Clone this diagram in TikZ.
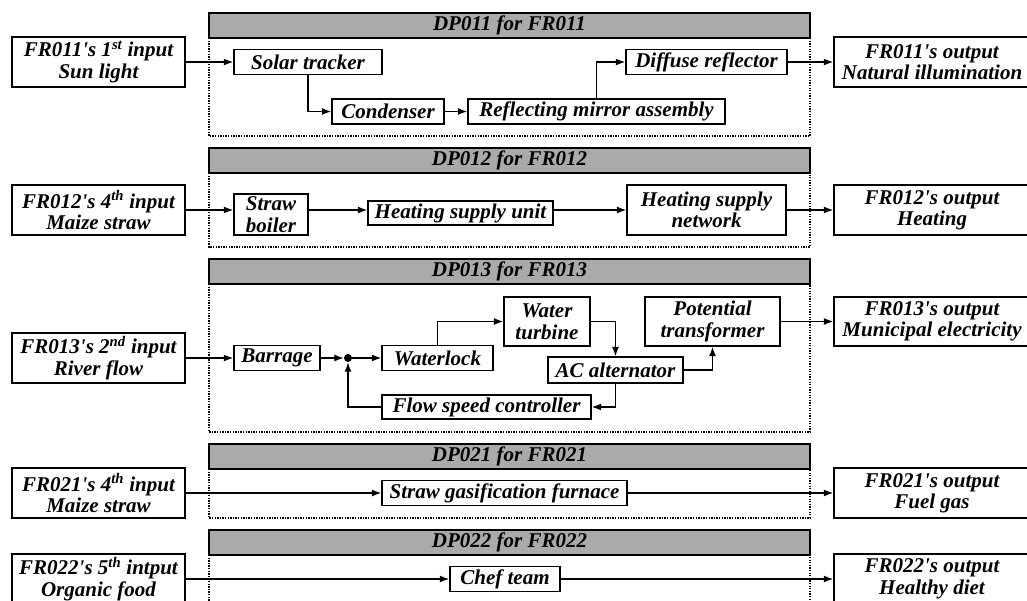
\documentclass[tikz,border=0pt]{standalone}
\usepackage{fontspec}
\setmainfont{Liberation Serif}[Ligatures=TeXOff]
\usetikzlibrary{arrows.meta,calc}
\definecolor{hdrgray}{RGB}{170,170,170}
\newcommand\fs{\fontsize{21}{21.5}\selectfont\bfseries\itshape}
\tikzset{
  bx/.style={draw, line width=1.4pt, inner sep=0pt, align=center, font=\fs},
  hdr/.style={draw, line width=1.4pt, fill=hdrgray, inner sep=0pt, font=\fs,
              minimum width=601pt, minimum height=25pt},
  frame/.style={draw, line width=1.3pt, dash pattern=on 1.3pt off 1.3pt},
  arr/.style={line width=1.3pt, -{Latex[length=9.5pt,width=7pt]}},
  jdot/.style={circle, fill=black, inner sep=0pt, minimum size=8pt}
}
\begin{document}
\begin{tikzpicture}[x=1pt,y=-1pt]
\useasboundingbox (0,0) rectangle (1027,600);
\clip (0,0) rectangle (1027,600);

% ---------------- Row 1 ----------------
\node[hdr] (h1) at (509.5,25.5) {DP011 for FR011};
\draw[frame] (209,38) -- (209,136) -- (810,136) -- (810,38);
\node[bx, minimum width=173pt, minimum height=50pt] (in1) at (98.5,62) {FR011's 1\textsuperscript{st} input\\Sun light};
\node[bx, minimum width=148pt, minimum height=25pt] (st) at (308,62) {Solar tracker};
\node[bx, minimum width=112pt, minimum height=25pt] (cond) at (388,111.5) {Condenser};
\node[bx, minimum width=257pt, minimum height=25pt] (refl) at (596.5,111.5) {Reflecting mirror assembly};
\node[bx, minimum width=161pt, minimum height=25pt] (diff) at (706.5,62) {Diffuse reflector};
\node[bx, minimum width=196pt, minimum height=50pt] (out1) at (932,62) {FR011's output\\Natural illumination};
\draw[arr] (in1.east) -- (st.west);
\draw[arr] (st.south) |- (cond.west);
\draw[arr] (cond.east) -- (refl.west);
\draw[arr] (refl.north) |- (diff.west);
\draw[arr] (diff.east) -- (out1.west);

% ---------------- Row 2 ----------------
\node[hdr] (h2) at (509.5,160.5) {DP012 for FR012};
\draw[frame] (209,173) -- (209,247) -- (810,247) -- (810,173);
\node[bx, minimum width=173pt, minimum height=50pt] (in2) at (98.5,210) {FR012's 4\textsuperscript{th} input\\Maize straw};
\node[bx, minimum width=74pt, minimum height=41pt] (sb) at (271,214.5) {Straw\\boiler};
\node[bx, minimum width=185pt, minimum height=24pt] (hsu) at (460.5,213) {Heating supply unit};
\node[bx, minimum width=159pt, minimum height=50pt] (hsn) at (706.5,210) {Heating supply\\network};
\node[bx, minimum width=196pt, minimum height=50pt] (out2) at (932,210) {FR012's output\\Heating};
\draw[arr] (in2.east) -- (in2.east -| sb.west);
\draw[arr] (sb.east |- in2) -- (hsu.west |- in2);
\draw[arr] (hsu.east |- in2) -- (hsn.west);
\draw[arr] (hsn.east) -- (out2.west);

% ---------------- Row 3 ----------------
\node[hdr] (h3) at (509.5,271.5) {DP013 for FR013};
\draw[frame] (209,284) -- (209,432) -- (810,432) -- (810,284);
\node[bx, minimum width=173pt, minimum height=50pt] (in3) at (98.5,358) {FR013's 2\textsuperscript{nd} input\\River flow};
\node[bx, minimum width=86pt, minimum height=25pt] (bar) at (277,358) {Barrage};
\node[jdot] (j) at (348,358) {};
\node[bx, minimum width=111pt, minimum height=25pt] (wl) at (437.5,358) {Waterlock};
\node[bx, minimum width=209pt, minimum height=24pt] (fsc) at (486.5,407) {Flow speed controller};
\node[bx, minimum width=86pt, minimum height=49pt] (wt) at (547,321.5) {Water\\turbine};
\node[bx, minimum width=135pt, minimum height=26pt] (ac) at (615.5,370) {AC alternator};
\node[bx, minimum width=135pt, minimum height=49pt] (pt) at (712.5,321.5) {Potential\\transformer};
\node[bx, minimum width=196pt, minimum height=49pt] (out3) at (932,321.5) {FR013's output\\Municipal electricity};
\draw[arr] (in3.east) -- (bar.west);
\draw[arr] (bar.east) -- (j.west);
\draw[arr] (j.east) -- (wl.west);
\draw[arr] (wl.north) |- (wt.west);
\draw[arr] (wt.east) -| (ac.north);
\draw[arr] (ac.east) -| (pt.south);
\draw[arr] (ac.south) |- (fsc.east);
\draw[arr] (fsc.west) -| (j.south);
\draw[arr] (pt.east) -- (out3.west);

% ---------------- Row 4 ----------------
\node[hdr] (h4) at (509.5,456.5) {DP021 for FR021};
\draw[frame] (209,469) -- (209,518) -- (810,518) -- (810,469);
\node[bx, minimum width=173pt, minimum height=50pt] (in4) at (98.5,493) {FR021's 4\textsuperscript{th} input\\Maize straw};
\node[bx, minimum width=245pt, minimum height=25pt] (sgf) at (504.5,493) {Straw gasification furnace};
\node[bx, minimum width=196pt, minimum height=50pt] (out4) at (932,493) {FR021's output\\Fuel gas};
\draw[arr] (in4.east) -- (sgf.west);
\draw[arr] (sgf.east) -- (out4.west);

% ---------------- Row 5 ----------------
\node[hdr] (h5) at (509.5,542.5) {DP022 for FR022};
\draw[frame] (209,555) -- (209,650) -- (810,650) -- (810,555);
\node[bx, minimum width=173pt, minimum height=50pt] (in5) at (98.5,579) {FR022's 5\textsuperscript{th} intput\\Organic food};
\node[bx, minimum width=110pt, minimum height=25pt] (chef) at (505,579) {Chef team};
\node[bx, minimum width=196pt, minimum height=50pt] (out5) at (932,579) {FR022's output\\Healthy diet};
\draw[arr] (in5.east) -- (chef.west);
\draw[arr] (chef.east) -- (out5.west);
\end{tikzpicture}
\end{document}
